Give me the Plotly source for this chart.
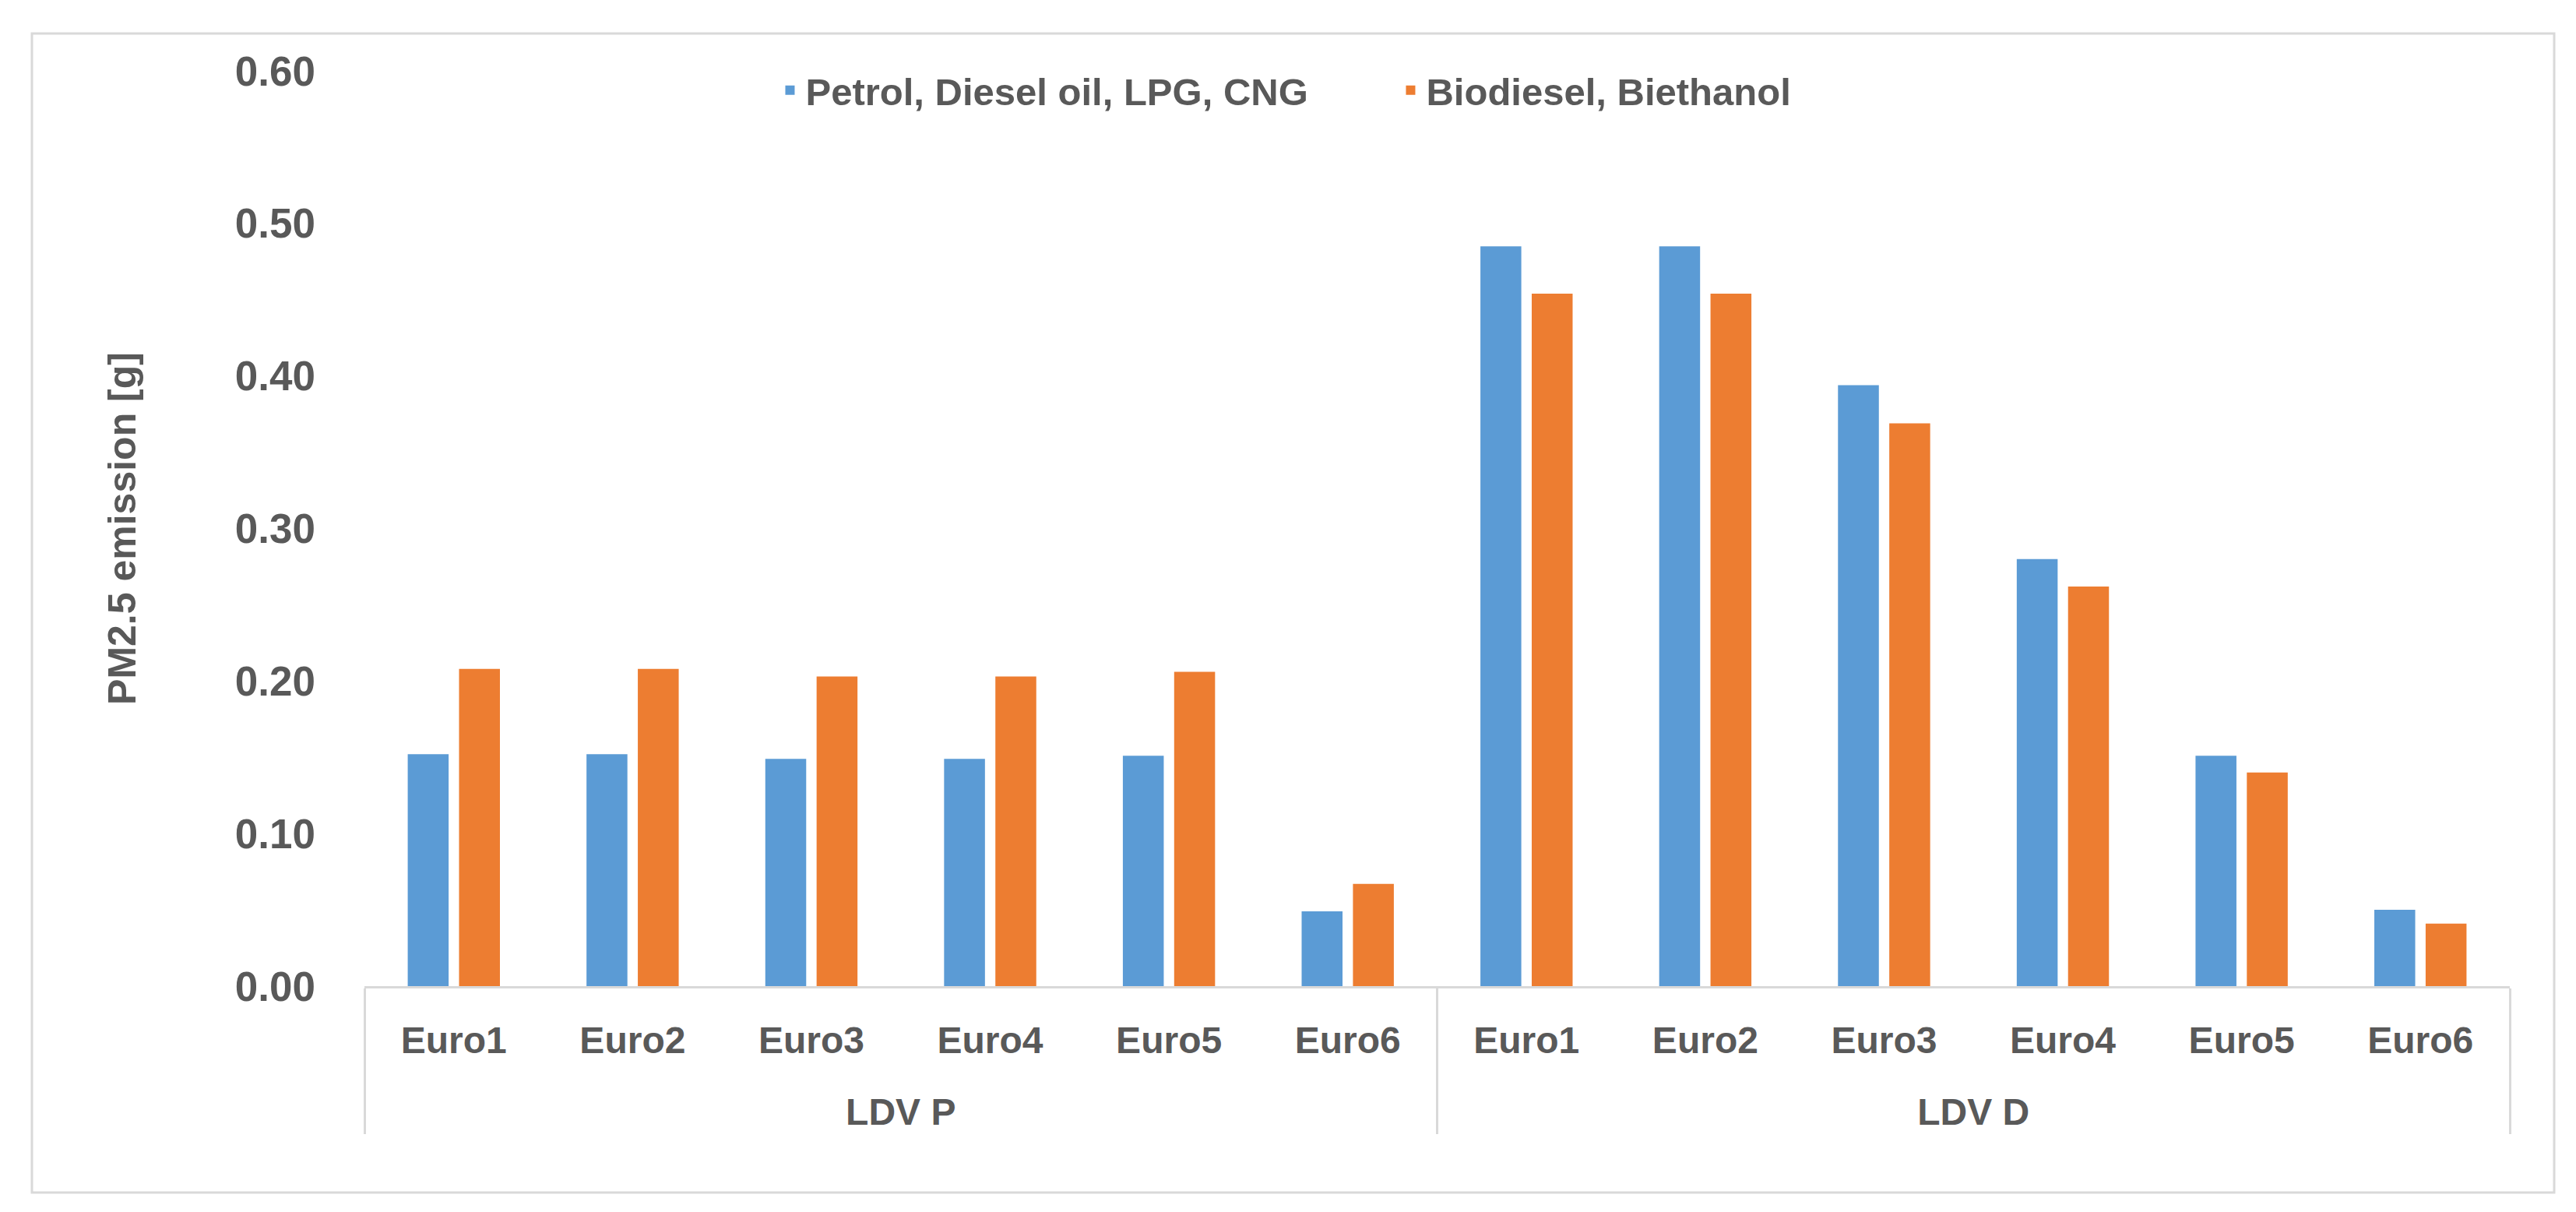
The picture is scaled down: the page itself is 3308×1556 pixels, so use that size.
import plotly.graph_objects as go

groups = ["LDV P"] * 6 + ["LDV D"] * 6
stages = ["Euro1", "Euro2", "Euro3", "Euro4", "Euro5", "Euro6"] * 2
conventional = [0.152, 0.152, 0.149, 0.149, 0.151, 0.049,
                0.485, 0.485, 0.394, 0.280, 0.151, 0.050]
biofuel = [0.208, 0.208, 0.203, 0.203, 0.206, 0.067,
           0.454, 0.454, 0.369, 0.262, 0.140, 0.041]
series_names = ["Petrol, Diesel oil, LPG, CNG", "Biodiesel, Biethanol"]
y_title = "PM2.5 emission [g]"

FONT = "Liberation Sans, Arial, sans-serif"
TXT = "#595959"
GRID = "#D9D9D9"

W, H = 3308, 1556
L, R, T, B = 460, 93, 83, 298

# group labels shown one line lower than the stage labels
group_labels = [" <br>" + g for g in groups]

fig = go.Figure()
fig.add_trace(go.Bar(x=[group_labels, stages], y=conventional, name=series_names[0],
                     marker=dict(color="#5B9BD5", line=dict(width=0))))
fig.add_trace(go.Bar(x=[group_labels, stages], y=biofuel, name=series_names[1],
                     marker=dict(color="#ED7D31", line=dict(width=0))))

pw = W - L - R
ph = H - T - B
def px_x(v):
    return (v - L) / pw
def px_y(v):
    return (H - B - v) / ph

# outer chart frame
fig.add_shape(type="rect", xref="paper", yref="paper",
              x0=px_x(33), x1=px_x(3272), y0=px_y(1523), y1=px_y(35),
              line=dict(color=GRID, width=3), layer="below")

fig.update_layout(
    width=W, height=H,
    margin=dict(l=L, r=R, t=T, b=B, autoexpand=False),
    paper_bgcolor="white", plot_bgcolor="white",
    font=dict(family=FONT, color=TXT, size=49),
    barmode="group", bargap=0.426, bargroupgap=0.203,
    showlegend=True,
    legend=dict(orientation="h", xref="paper", yref="paper",
                x=px_x(1003) - 0.006, xanchor="left", y=px_y(108), yanchor="middle",
                font=dict(family=FONT, size=49, color=TXT, weight="bold"),
                bgcolor="rgba(0,0,0,0)", entrywidthmode="pixels",
                entrywidth=752, itemwidth=30),
    xaxis=dict(type="multicategory", showline=True, linecolor=GRID, linewidth=3,
               showgrid=False, zeroline=False, ticks="",
               ticklabelstandoff=25,
               showdividers=True, dividercolor=GRID, dividerwidth=3,
               tickfont=dict(family=FONT, size=48, color=TXT, weight="bold")),
    yaxis=dict(range=[0, 0.6], dtick=0.1, tickformat=".2f", showgrid=False,
               zeroline=False, showline=False, ticks="",
               ticklabelstandoff=62,
               tickfont=dict(family=FONT, size=53, color=TXT, weight="bold"),
               title=dict(text=y_title, standoff=111,
                          font=dict(family=FONT, size=50, color=TXT, weight="bold"))),
)

fig.write_html("out.html")
